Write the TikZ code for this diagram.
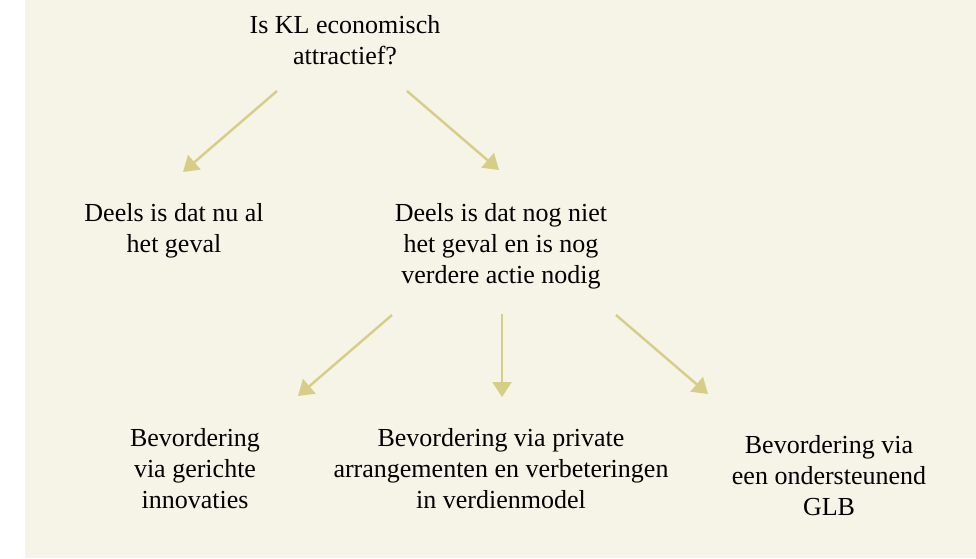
\documentclass[tikz,border=0pt]{standalone}
\usepackage{fontspec}
\setmainfont{Liberation Serif}
\usetikzlibrary{arrows.meta}
\definecolor{achtergrond}{HTML}{F6F3E7}
\definecolor{pijlkleur}{HTML}{D6CE86}
\begin{document}
\begin{tikzpicture}[x = 1pt, y = -1pt,
	tekst/.style = {anchor=north, inner sep=0pt, align=center,
		font=\fontsize{26}{31}\selectfont},
	pijl/.style = {draw=pijlkleur, line width=2.4pt,
		-{Triangle[length=15pt,width=19pt]}}]
	\useasboundingbox (0,0) rectangle (976,558);
	\fill[achtergrond] (25,0) rectangle (976,558);
	
	% vraag bovenaan
	\node[tekst] (vraag) at (345,15) {Is KL economisch\\attractief?};
	
	% tweede rij
	\node[tekst] (nual) at (174,203) {Deels is dat nu al\\het geval};
	\node[tekst] (nognict) at (501,203) {Deels is dat nog niet\\het geval en is nog\\verdere actie nodig};
	
	% derde rij
	\node[tekst] (innov) at (195,428) {Bevordering\\via gerichte\\innovaties};
	\node[tekst] (privaat) at (501,428) {Bevordering via private\\arrangementen en verbeteringen\\in verdienmodel};
	\node[tekst] (glb) at (829,435) {Bevordering via\\een ondersteunend\\GLB};
	
	% begin- en eindpunten van de pijlen
	\coordinate (vraag-l) at (277,91);
	\coordinate (vraag-r) at (407,91);
	\coordinate (nual-in) at (183,172);
	\coordinate (nognict-in) at (499,170);
	\coordinate (nognict-l) at (392,315);
	\coordinate (nognict-m) at (502,314);
	\coordinate (nognict-r) at (616,315);
	\coordinate (innov-in) at (298,396);
	\coordinate (privaat-in) at (502,397);
	\coordinate (glb-in) at (708,394);
	
	\draw[pijl] (vraag-l) -- (nual-in);
	\draw[pijl] (vraag-r) -- (nognict-in);
	
	\draw[pijl] (nognict-l) -- (innov-in);
	\draw[pijl] (nognict-m) -- (privaat-in);
	\draw[pijl] (nognict-r) -- (glb-in);
\end{tikzpicture}
\end{document}
